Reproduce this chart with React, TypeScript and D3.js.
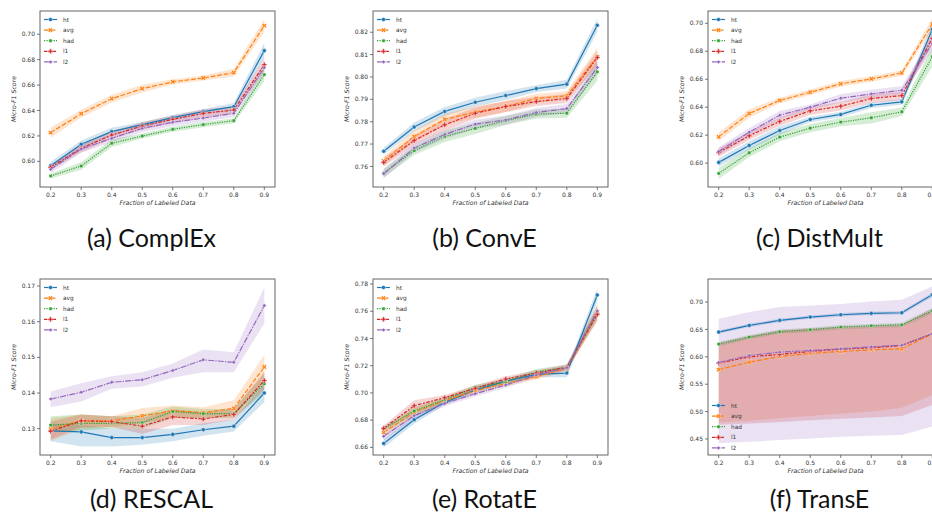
import React from "react";
import * as d3 from "d3";

const fractions = [0.2, 0.3, 0.4, 0.5, 0.6, 0.7, 0.8, 0.9];
const methods = ["ht", "avg", "had", "l1", "l2"];
const colors = ["#1f77b4", "#ff7f0e", "#2ca02c", "#d62728", "#9467bd"];
const dashes = ["", "4.8,1.8", "1.2,1.2", "3.6,1.5,1.8,1.5", "6,1.2,1.2,1.2"];

// (a) ComplEx
const complexMean = [
  [0.5966, 0.6134, 0.6234, 0.6289, 0.6344, 0.6391, 0.643, 0.6871],
  [0.6226, 0.6375, 0.6493, 0.6572, 0.6625, 0.6656, 0.6698, 0.7068],
  [0.5885, 0.5963, 0.6142, 0.6199, 0.6252, 0.6289, 0.632, 0.6682],
  [0.5953, 0.6102, 0.6207, 0.6278, 0.6331, 0.6378, 0.6404, 0.676],
  [0.5937, 0.6097, 0.6181, 0.626, 0.6307, 0.6341, 0.6378, 0.6738],
];
const complexErr = [
  [0.003, 0.003, 0.003, 0.002, 0.002, 0.002, 0.003, 0.006],
  [0.004, 0.003, 0.003, 0.003, 0.002, 0.002, 0.003, 0.005],
  [0.002, 0.003, 0.003, 0.002, 0.002, 0.002, 0.002, 0.005],
  [0.002, 0.003, 0.003, 0.003, 0.003, 0.003, 0.003, 0.005],
  [0.003, 0.003, 0.003, 0.003, 0.003, 0.003, 0.003, 0.004],
];

// (b) ConvE
const convEMean = [
  [0.7668, 0.7776, 0.7846, 0.7887, 0.7917, 0.7948, 0.7968, 0.8231],
  [0.7625, 0.7734, 0.7811, 0.7843, 0.7868, 0.7904, 0.7916, 0.8091],
  [0.757, 0.7671, 0.7734, 0.777, 0.7805, 0.7834, 0.7838, 0.8023],
  [0.7618, 0.7716, 0.7786, 0.7838, 0.7868, 0.789, 0.7904, 0.8087],
  [0.7567, 0.7682, 0.7743, 0.7789, 0.7808, 0.7841, 0.7859, 0.8042],
];
const convEErr = [
  [0.0015, 0.002, 0.002, 0.002, 0.002, 0.0015, 0.002, 0.003],
  [0.002, 0.0025, 0.0025, 0.0025, 0.0025, 0.002, 0.002, 0.004],
  [0.002, 0.002, 0.0025, 0.0025, 0.002, 0.002, 0.002, 0.004],
  [0.002, 0.002, 0.0025, 0.0025, 0.0025, 0.002, 0.002, 0.003],
  [0.002, 0.002, 0.002, 0.002, 0.002, 0.002, 0.002, 0.003],
];

// (c) DistMult
const distMultMean = [
  [0.6005, 0.6126, 0.6233, 0.6312, 0.6348, 0.6414, 0.6438, 0.6957],
  [0.6188, 0.6355, 0.6448, 0.6507, 0.6567, 0.6602, 0.6645, 0.6995],
  [0.5926, 0.6074, 0.6186, 0.625, 0.6293, 0.6324, 0.6367, 0.6762],
  [0.6076, 0.6195, 0.6298, 0.6374, 0.6407, 0.6462, 0.6483, 0.6893],
  [0.6083, 0.6221, 0.6343, 0.64, 0.6464, 0.6495, 0.6521, 0.6857],
];
const distMultErr = [
  [0.003, 0.003, 0.003, 0.002, 0.002, 0.002, 0.002, 0.005],
  [0.003, 0.003, 0.002, 0.002, 0.002, 0.002, 0.002, 0.004],
  [0.004, 0.003, 0.003, 0.003, 0.003, 0.004, 0.003, 0.007],
  [0.003, 0.003, 0.003, 0.003, 0.003, 0.003, 0.003, 0.005],
  [0.003, 0.003, 0.003, 0.002, 0.003, 0.003, 0.003, 0.005],
];

// (d) RESCAL
const rescalMean = [
  [0.1294, 0.1291, 0.1275, 0.1275, 0.1284, 0.1297, 0.1307, 0.14],
  [0.1299, 0.1322, 0.1322, 0.1336, 0.135, 0.1345, 0.1357, 0.1473],
  [0.131, 0.1315, 0.1315, 0.1317, 0.1348, 0.1342, 0.1342, 0.1426],
  [0.1293, 0.1322, 0.132, 0.1307, 0.1333, 0.1327, 0.134, 0.1435],
  [0.1383, 0.1402, 0.143, 0.1437, 0.1463, 0.1493, 0.1486, 0.1645],
];
const rescalLow = [
  [0.1265, 0.125, 0.125, 0.1255, 0.1265, 0.128, 0.1292, 0.1375],
  [0.1265, 0.13, 0.1305, 0.1315, 0.133, 0.133, 0.1335, 0.1435],
  [0.129, 0.1295, 0.13, 0.13, 0.133, 0.133, 0.133, 0.14],
  [0.127, 0.1305, 0.1305, 0.1285, 0.131, 0.131, 0.1325, 0.141],
  [0.136, 0.1376, 0.1412, 0.1418, 0.1443, 0.1458, 0.1458, 0.1595],
];
const rescalHigh = [
  [0.1315, 0.131, 0.13, 0.13, 0.13, 0.1315, 0.1325, 0.1425],
  [0.133, 0.134, 0.1335, 0.1358, 0.1365, 0.136, 0.138, 0.1507],
  [0.1335, 0.134, 0.1335, 0.134, 0.1362, 0.1355, 0.1355, 0.1455],
  [0.132, 0.134, 0.1335, 0.133, 0.1355, 0.1345, 0.1355, 0.146],
  [0.1404, 0.1427, 0.1447, 0.1458, 0.1483, 0.1522, 0.1514, 0.1696],
];

// (e) RotatE
const rotatEMean = [
  [0.6629, 0.6803, 0.6931, 0.7021, 0.7087, 0.7136, 0.7146, 0.7719],
  [0.671, 0.6857, 0.6943, 0.7016, 0.707, 0.7119, 0.718, 0.7597],
  [0.6735, 0.6867, 0.695, 0.7041, 0.7082, 0.7156, 0.7188, 0.7592],
  [0.674, 0.6906, 0.6965, 0.7034, 0.7102, 0.7146, 0.7188, 0.7577],
  [0.6681, 0.6833, 0.6923, 0.6994, 0.7058, 0.7131, 0.7185, 0.7602],
];
const rotatEErr = [
  [0.003, 0.003, 0.002, 0.002, 0.002, 0.002, 0.003, 0.005],
  [0.003, 0.003, 0.002, 0.002, 0.002, 0.002, 0.002, 0.006],
  [0.002, 0.003, 0.002, 0.002, 0.002, 0.002, 0.002, 0.005],
  [0.002, 0.004, 0.002, 0.002, 0.002, 0.002, 0.002, 0.005],
  [0.003, 0.003, 0.002, 0.002, 0.002, 0.002, 0.002, 0.004],
];

// (f) TransE
const transEMean = [
  [0.6451, 0.6573, 0.6665, 0.6726, 0.6768, 0.6793, 0.6805, 0.7134],
  [0.5768, 0.5902, 0.6006, 0.6061, 0.6098, 0.6128, 0.6146, 0.6421],
  [0.6232, 0.636, 0.6457, 0.6494, 0.6543, 0.6567, 0.6585, 0.6841],
  [0.5884, 0.6, 0.6043, 0.6098, 0.614, 0.6165, 0.6207, 0.6421],
  [0.5896, 0.6024, 0.6085, 0.6116, 0.6146, 0.6183, 0.6213, 0.6421],
];
const transELow = [
  [0.6421, 0.6543, 0.6635, 0.6696, 0.6738, 0.6763, 0.6775, 0.7094],
  [0.48, 0.483, 0.488, 0.492, 0.496, 0.5, 0.507, 0.53],
  [0.619, 0.632, 0.642, 0.645, 0.65, 0.652, 0.654, 0.679],
  [0.476, 0.478, 0.481, 0.484, 0.487, 0.489, 0.492, 0.512],
  [0.442, 0.445, 0.448, 0.451, 0.454, 0.456, 0.457, 0.473],
];
const transEHigh = [
  [0.6481, 0.6603, 0.6695, 0.6756, 0.6798, 0.6823, 0.6835, 0.7174],
  [0.622, 0.636, 0.647, 0.65, 0.653, 0.655, 0.657, 0.686],
  [0.627, 0.64, 0.65, 0.653, 0.658, 0.66, 0.662, 0.689],
  [0.626, 0.638, 0.649, 0.652, 0.655, 0.657, 0.659, 0.689],
  [0.6695, 0.6817, 0.6909, 0.6939, 0.6963, 0.7012, 0.7043, 0.7287],
];

const addErr = (mean: number[][], err: number[][], sign: number) =>
  mean.map((row, i) => row.map((v, j) => v + sign * err[i][j]));

const panels = [
  { title: "(a) ComplEx", mean: complexMean, low: addErr(complexMean, complexErr, -1), high: addErr(complexMean, complexErr, 1), yDomain: [0.5798, 0.7183], yTicks: [0.6, 0.62, 0.64, 0.66, 0.68, 0.7], col: 0, row: 0, legend: "top" },
  { title: "(b) ConvE", mean: convEMean, low: addErr(convEMean, convEErr, -1), high: addErr(convEMean, convEErr, 1), yDomain: [0.7508, 0.8295], yTicks: [0.76, 0.77, 0.78, 0.79, 0.8, 0.81, 0.82], col: 1, row: 0, legend: "top" },
  { title: "(c) DistMult", mean: distMultMean, low: addErr(distMultMean, distMultErr, -1), high: addErr(distMultMean, distMultErr, 1), yDomain: [0.5829, 0.7088], yTicks: [0.6, 0.62, 0.64, 0.66, 0.68, 0.7], col: 2, row: 0, legend: "top" },
  { title: "(d) RESCAL", mean: rescalMean, low: rescalLow, high: rescalHigh, yDomain: [0.12262, 0.17196], yTicks: [0.13, 0.14, 0.15, 0.16, 0.17], col: 0, row: 1, legend: "top" },
  { title: "(e) RotatE", mean: rotatEMean, low: addErr(rotatEMean, rotatEErr, -1), high: addErr(rotatEMean, rotatEErr, 1), yDomain: [0.6544, 0.7837], yTicks: [0.66, 0.68, 0.7, 0.72, 0.74, 0.76, 0.78], col: 1, row: 1, legend: "top" },
  { title: "(f) TransE", mean: transEMean, low: transELow, high: transEHigh, yDomain: [0.4207, 0.7421], yTicks: [0.45, 0.5, 0.55, 0.6, 0.65, 0.7], col: 2, row: 1, legend: "bottom" },
];

const colLeft = [40, 373, 708];
const rowTop = [11, 279];
const W = 235;
const H = 176;
const tickFont = "DejaVu Sans, sans-serif";

function markerPath(i: number) {
  const sym = [d3.symbolCircle, d3.symbolCross, d3.symbolSquare, d3.symbolCross, d3.symbolSquare][i];
  const size = [13, 14, 10, 14, 8][i];
  return d3.symbol().type(sym).size(size)() as string;
}
const markerRotate = [0, 45, 0, 0, 45];

const Marker = ({ i, x, y }: { i: number; x: number; y: number }) => (
  <path
    d={markerPath(i)}
    transform={`translate(${x},${y}) rotate(${markerRotate[i]})`}
    fill={colors[i]}
    stroke="#fff"
    strokeWidth={0.4}
  />
);

const Panel = ({ p }: { p: (typeof panels)[number] }) => {
  const left = colLeft[p.col];
  const top = rowTop[p.row];
  const x = d3.scaleLinear().domain([0.165, 0.935]).range([0, W]);
  const y = d3.scaleLinear().domain(p.yDomain).range([H, 0]);
  const line = d3.line<number>().x((_, j) => x(fractions[j])).y((v) => y(v));
  const area = d3
    .area<number>()
    .x((_, j) => x(fractions[j]))
    .y0((_, j) => 0)
    .y1((v) => y(v));
  const band = (lo: number[], hi: number[]) =>
    d3
      .area<number>()
      .x((_, j) => x(fractions[j]))
      .y0((_, j) => y(lo[j]))
      .y1((_, j) => y(hi[j]))(fractions) as string;
  void area;
  const legendY = p.legend === "top" ? 8.5 : H - 49.5;
  const cx = left + W / 2 - 6;
  return (
    <g>
      <g transform={`translate(${left},${top})`}>
        <defs>
          <clipPath id={`clip-${p.col}-${p.row}`}>
            <rect x={0} y={0} width={W} height={H} />
          </clipPath>
        </defs>
        <g clipPath={`url(#clip-${p.col}-${p.row})`}>
          {methods.map((m, i) => (
            <path key={m} d={band(p.low[i], p.high[i])} fill={colors[i]} fillOpacity={0.2} />
          ))}
          {methods.map((m, i) => (
            <g key={m}>
              <path
                d={line(p.mean[i]) as string}
                fill="none"
                stroke={colors[i]}
                strokeWidth={1.2}
                strokeDasharray={dashes[i]}
              />
              {p.mean[i].map((v, j) => (
                <Marker key={j} i={i} x={x(fractions[j])} y={y(v)} />
              ))}
            </g>
          ))}
        </g>
        <rect x={0} y={0} width={W} height={H} fill="none" stroke="#555" strokeWidth={0.9} />
        {fractions.map((f) => (
          <g key={f} transform={`translate(${x(f)},${H})`}>
            <line y2={3} stroke="#555" strokeWidth={0.8} />
            <text y={9.5} textAnchor="middle" fontSize={6} fontFamily={tickFont} fill="#333">
              {d3.format(".1f")(f)}
            </text>
          </g>
        ))}
        {p.yTicks.map((t) => (
          <g key={t} transform={`translate(0,${y(t)})`}>
            <line x2={-3} stroke="#555" strokeWidth={0.8} />
            <text x={-5} dy="0.35em" textAnchor="end" fontSize={6} fontFamily={tickFont} fill="#333">
              {d3.format(".2f")(t)}
            </text>
          </g>
        ))}
        <text
          x={W / 2}
          y={H + 18}
          textAnchor="middle"
          fontSize={6.2}
          fontStyle="italic"
          fontFamily={tickFont}
          fill="#333"
        >
          Fraction of Labeled Data
        </text>
        <text
          transform={`translate(-26,${H / 2}) rotate(-90)`}
          textAnchor="middle"
          dy="0.35em"
          fontSize={6.2}
          fontStyle="italic"
          fontFamily={tickFont}
          fill="#333"
        >
          Micro-F1 Score
        </text>
        <g transform={`translate(4,${legendY})`}>
          {methods.map((m, i) => (
            <g key={m} transform={`translate(0,${i * 10.6})`}>
              <line x1={0} x2={13} stroke={colors[i]} strokeWidth={1.2} strokeDasharray={dashes[i]} />
              <Marker i={i} x={6.5} y={0} />
              <text x={19} dy="0.35em" fontSize={5.8} fontFamily={tickFont} fill="#333">
                {m}
              </text>
            </g>
          ))}
        </g>
      </g>
      <text
        x={cx}
        y={p.row === 0 ? 247 : 508}
        textAnchor="middle"
        fontSize={25}
        fontFamily="Lato, sans-serif"
        fill="#111"
      >
        {p.title}
      </text>
    </g>
  );
};

export default function App() {
  return (
    <div style={{ position: "absolute", left: 0, top: 0, width: 932, height: 516, overflow: "hidden", background: "#fff" }}>
      <svg width={932} height={516} style={{ display: "block" }}>
        <rect width={932} height={516} fill="#fff" />
        {panels.map((p) => (
          <Panel key={p.title} p={p} />
        ))}
      </svg>
    </div>
  );
}
